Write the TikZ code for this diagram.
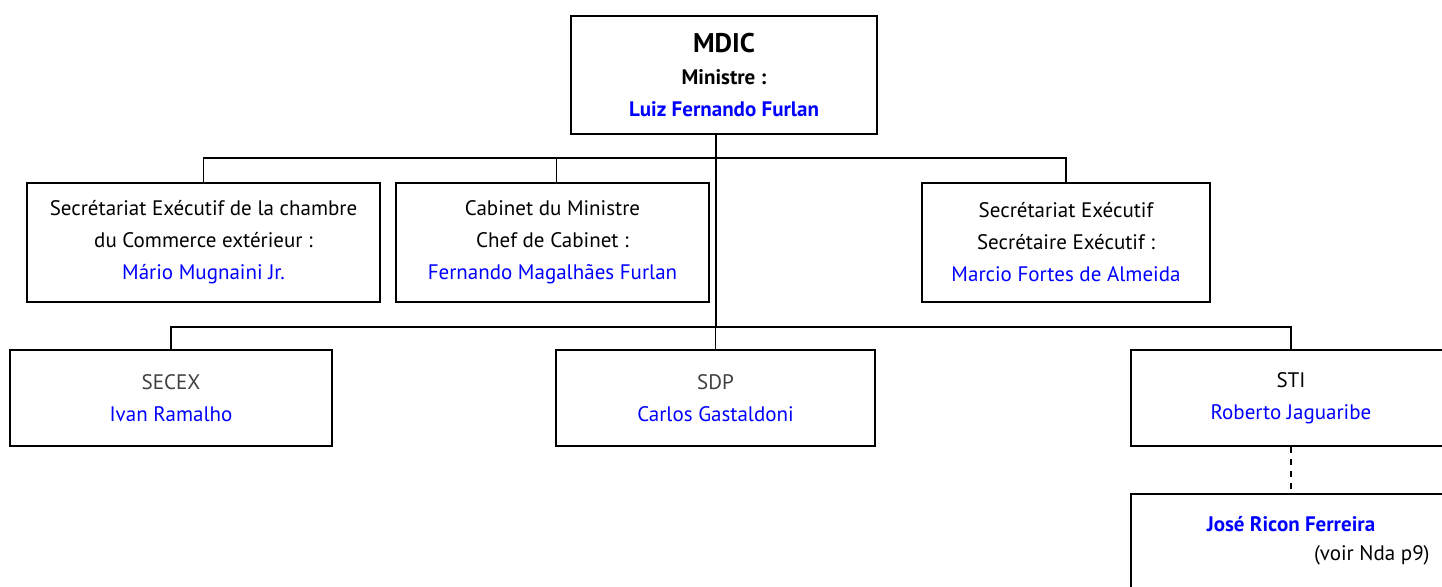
\documentclass[tikz,border=0pt]{standalone}
\usepackage{fontspec}
\setmainfont{PT Sans}
\usetikzlibrary{calc}

\definecolor{nameblue}{RGB}{0,0,255}
\definecolor{unitgray}{RGB}{64,64,64}
\newcommand{\who}[1]{\textcolor{nameblue}{#1}}

\tikzset{
  unitbox/.style={draw=black, line width=0.8pt, align=center, inner sep=0pt,
    font=\fontsize{10.5}{16}\selectfont},
  headbox/.style={unitbox, line width=1.4pt}
}

\begin{document}
\begin{tikzpicture}[x=0.5pt,y=-0.5pt]
				\useasboundingbox (0,0) rectangle (1442,586);
				\clip (0,0) rectangle (1442,586);
				
				% ministre
				\node[headbox, minimum width=153pt, minimum height=59pt] (mdic) at (724,75)
				  {\textbf{\fontsize{13.5}{16.5}\selectfont MDIC}\\ \textbf{Ministre :}\\ \textbf{\who{Luiz Fernando Furlan}}};
				\coordinate (bus1) at (716,158);
				\coordinate (bus2) at (716,327);
				
				% rattachements directs
				\node[unitbox, minimum width=176.5pt, minimum height=59.5pt] (secCE) at (203.5,242.5)
				  {Secr\'etariat Ex\'ecutif de la chambre\\ du Commerce ext\'erieur :\\ \who{M\'ario Mugnaini Jr.}};
				\node[unitbox, minimum width=156.5pt, minimum height=59.5pt] (cabinet) at (552.5,242.5)
				  {Cabinet du Ministre\\ Chef de Cabinet :\\ \who{Fernando Magalh\~aes Furlan}};
				\node[unitbox, minimum width=144pt, minimum height=59.5pt] (secExec) at (1066,242.5)
				  {Secr\'etariat Ex\'ecutif\\ Secr\'etaire Ex\'ecutif :\\ \who{Marcio Fortes de Almeida}};
				
				% secretariats
				\node[unitbox, minimum width=161pt, minimum height=48pt] (secex) at (171,398)
				  {\textcolor{unitgray}{SECEX}\\ \who{Ivan Ramalho}};
				\node[unitbox, minimum width=159.5pt, minimum height=48pt] (sdp) at (715.5,398)
				  {\textcolor{unitgray}{SDP}\\ \who{Carlos Gastaldoni}};
				\node[unitbox, minimum width=160pt, minimum height=48pt] (sti) at (1291,398)
				  {STI\\ \who{Roberto Jaguaribe}};
				
				\node[unitbox, minimum width=160pt, minimum height=60pt] (jose) at (1291,554) {};
				\node[font=\fontsize{10.5}{15}\selectfont\bfseries, text=nameblue] (joseName) at (1291,524) {Jos\'e Ricon Ferreira};
				\node[font=\fontsize{10.5}{15}\selectfont, anchor=east, inner sep=0pt] (joseNote) at (1430,555) {(voir Nda p9)};
				
				% liaisons
				\draw[line width=0.8pt] (mdic.south -| bus1) -- (bus2);
				\draw[line width=0.8pt] (secCE.north) |- (bus1);
				\draw[line width=0.8pt] ($(cabinet.north)+(4,0)$) |- (bus1);
				\draw[line width=0.8pt] (secExec.north) |- (bus1);
				\draw[line width=0.8pt] (secex.north) |- (bus2);
				\draw[line width=0.8pt] (sdp.north) |- (bus2);
				\draw[line width=0.8pt] (sti.north) |- (bus2);
				\draw[line width=0.8pt, dashed] (sti.south) -- (jose.north);
\end{tikzpicture}
\end{document}
